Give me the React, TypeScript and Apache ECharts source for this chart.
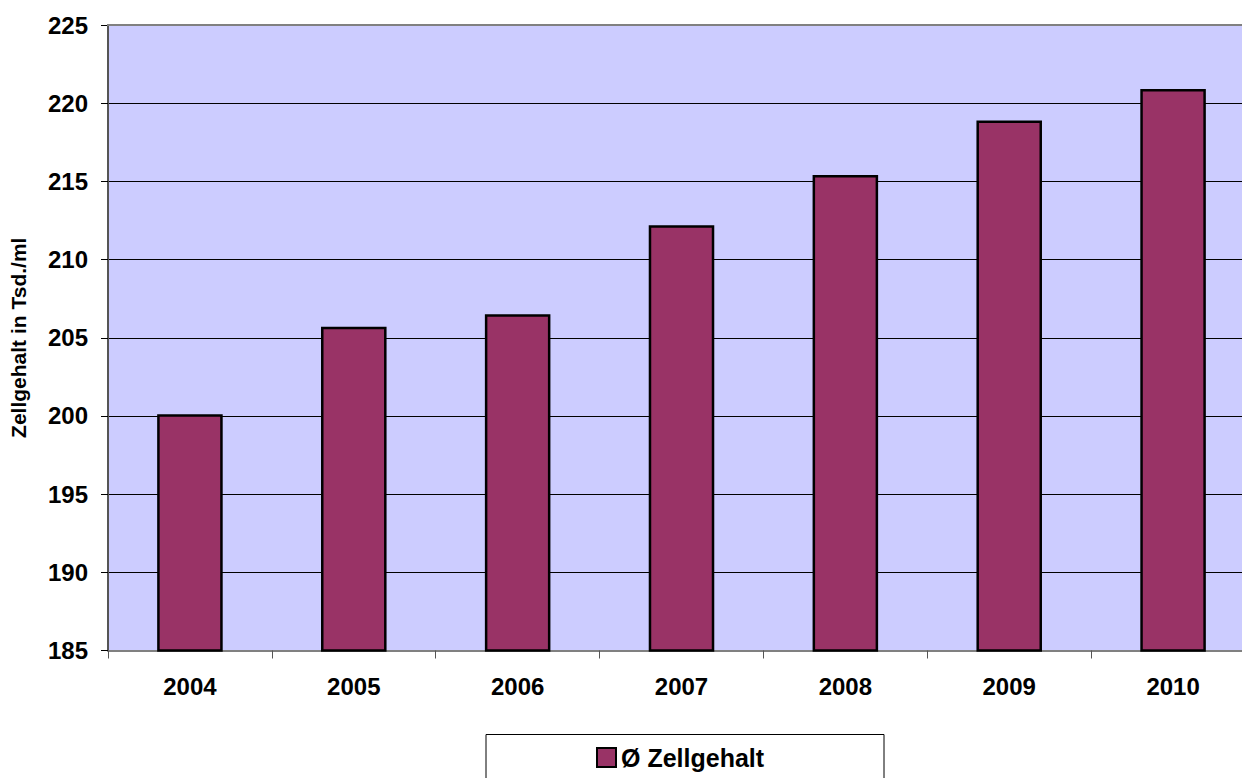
import React, { useEffect, useRef } from "react";
import * as echarts from "echarts";

const years = ["2004", "2005", "2006", "2007", "2008", "2009", "2010"];
const zellgehalt = [200.1, 205.7, 206.5, 212.2, 215.4, 218.9, 220.9];
const seriesName = "Ø Zellgehalt";
const yAxisTitle = "Zellgehalt in Tsd./ml";

export default function App() {
  const ref = useRef<HTMLDivElement>(null);
  useEffect(() => {
    const chart = echarts.init(ref.current!, null, { renderer: "svg" });
    const font = "'Liberation Sans', Arial, sans-serif";
    chart.setOption({
      animation: false,
      backgroundColor: "#ffffff",
      grid: {
        left: 107,
        top: 25,
        right: 0,
        bottom: 127.5,
        show: true,
        backgroundColor: "#CCCCFF",
        borderWidth: 0,
      },
      xAxis: {
        type: "category",
        data: years,
        axisLine: { show: true, lineStyle: { color: "#808080", width: 2 } },
        axisTick: { show: true, alignWithLabel: false, length: 8, lineStyle: { color: "#555", width: 1 } },
        axisLabel: {
          color: "#000",
          fontFamily: font,
          fontWeight: "bold",
          fontSize: 24,
          margin: 24,
        },
      },
      yAxis: {
        type: "value",
        min: 185,
        max: 225,
        interval: 5,
        name: yAxisTitle,
        nameLocation: "middle",
        nameGap: 79,
        nameTextStyle: { color: "#000", fontFamily: font, fontWeight: "bold", fontSize: 21 },
        axisLine: { show: true, lineStyle: { color: "#555", width: 2 } },
        axisTick: { show: true, length: 7, lineStyle: { color: "#000", width: 1 } },
        axisLabel: {
          color: "#000",
          fontFamily: font,
          fontWeight: "bold",
          fontSize: 24,
          margin: 20,
        },
        splitLine: { show: true, lineStyle: { color: "#000", width: 1 } },
      },
      legend: {
        show: true,
        top: 740,
        left: 591,
        data: [seriesName],
        icon: "rect",
        itemWidth: 19,
        itemHeight: 19,
        itemGap: 4,
        itemStyle: { borderColor: "#000", borderWidth: 2 },
        textStyle: { color: "#000", fontFamily: font, fontWeight: "bold", fontSize: 25 },
      },
      graphic: [
        {
          type: "rect",
          left: 483.5,
          top: 732,
          shape: { width: 398, height: 60 },
          style: { fill: "none", stroke: "#000", lineWidth: 1 },
          z: -1,
        },
        {
          type: "line",
          shape: { x1: 107, y1: 25, x2: 1255, y2: 25 },
          style: { stroke: "#808080", lineWidth: 2 },
          z: 10,
        },
      ],
      series: [
        {
          name: seriesName,
          type: "bar",
          data: zellgehalt,
          barWidth: "40%",
          itemStyle: { color: "#993366", borderColor: "#000", borderWidth: 2.5 },
        },
      ],
    });
    return () => chart.dispose();
  }, []);
  return (
    <div
      style={{ position: "absolute", left: 0, top: 0, width: 1242, height: 778, overflow: "hidden" }}
    >
      <div ref={ref} style={{ width: 1255, height: 778 }} />
    </div>
  );
}
